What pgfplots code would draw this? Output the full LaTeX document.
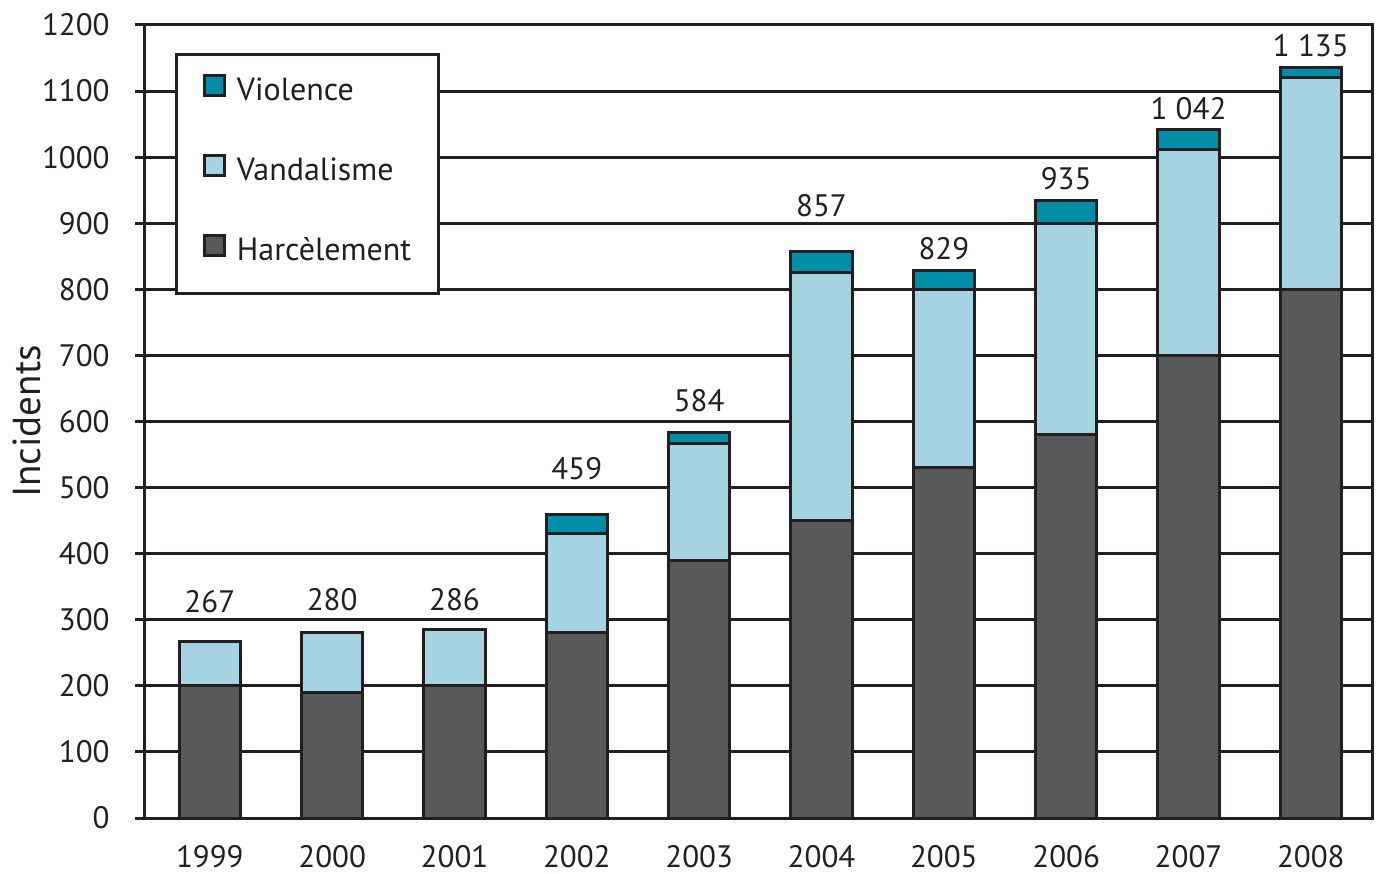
\documentclass[border=0pt]{standalone}
\usepackage{pgfplots}
\usepackage{pgfplotstable}
\pgfplotsset{compat=1.18}
\usepackage{fontspec}
\setmainfont{PT Sans}
\definecolor{harc}{RGB}{88,89,91}
\definecolor{vand}{RGB}{166,211,225}
\definecolor{viol}{RGB}{0,142,168}
\definecolor{edge}{RGB}{35,31,32}

\pgfplotstableread{
x h v vi
0 200 67 0
1 190 90 0
2 200 86 0
3 280 150 29
4 390 177 17
5 450 375 32
6 530 270 29
7 580 320 35
8 700 312 30
9 800 320 15
}\datatable

\pgfplotstableread{
x ly total
0 328 267
1 330 280
2 330 286
3 528 459
4 632 584
5 926 857
6 861 829
7 968 935
8 1074 1042
9 1168 1135
}\labeltable

\newcommand{\lblfont}{\fontsize{15.5}{18}\selectfont}

\begin{document}
\begin{tikzpicture}
\useasboundingbox (-72.5pt,-27.5pt) rectangle (615.5pt,409pt);
\begin{axis}[
  at={(0,0)}, anchor=south west,
  width=613.5pt, height=396.5pt, scale only axis,
  ybar stacked, bar width=0.5,
  xmin=-0.53, xmax=9.5, ymin=0, ymax=1200,
  xtick={0,...,9},
  xticklabels={1999,2000,2001,2002,2003,2004,2005,2006,2007,2008},
  ytick={0,100,...,1200},
  axis line style={edge, line width=1.5pt},
  ymajorgrids, major grid style={edge, line width=1.5pt},
  x tick style={draw=none},
  ytick pos=left, xtick pos=left,
  tick align=outside, major tick length=5pt,
  y tick style={edge, line width=1.5pt},
  tick label style={font=\lblfont, text=edge},
  x tick label style={anchor=north, inner sep=0pt, yshift=-8.5pt},
  y tick label style={anchor=east, inner sep=0pt, xshift=-12.5pt},
  /pgf/number format/assume math mode=true,
  /pgf/number format/1000 sep={},
  ylabel={Incidents},
  ylabel style={at={(axis description cs:-0.0962,0.5)}, anchor=center, font=\fontsize{19.5}{22}\selectfont, text=edge},
  reverse legend,
  legend style={at={(axis description cs:0.02445,0.9647)}, anchor=north west,
    draw=edge, line width=1.5pt, fill=white, font=\fontsize{16}{19}\selectfont, text=edge,
    inner xsep=13.5pt, inner ysep=10pt, row sep=20.25pt,
    nodes={inner sep=0pt, text height=11pt, text depth=6.5pt},
    column sep=5.5pt},
  legend cell align=left,
  every axis plot post/.append style={
    legend image code/.code={\draw[##1, line width=1.2pt] (0pt,0.4pt) rectangle (10pt,10.4pt);}},
]
\addplot[fill=harc, draw=edge, line width=1.5pt] table[x=x,y=h]{\datatable};
\addlegendentry{Harcèlement}
\addplot[fill=vand, draw=edge, line width=1.5pt] table[x=x,y=v]{\datatable};
\addlegendentry{Vandalisme}
\addplot[fill=viol, draw=edge, line width=1.5pt] table[x=x,y=vi]{\datatable};
\addlegendentry{Violence}
\end{axis}
\begin{axis}[
  at={(0,0)}, anchor=south west,
  width=613.5pt, height=396.5pt, scale only axis,
  xmin=-0.53, xmax=9.5, ymin=0, ymax=1200,
  hide axis,
  /pgf/number format/assume math mode=true,
]
\addplot[only marks, mark=*, mark options={draw opacity=0, fill opacity=0, scale=0.01},
  point meta=explicit,
  nodes near coords={\pgfmathprintnumber[1000 sep={\ }]{\pgfplotspointmeta}},
  nodes near coords style={anchor=center, font=\lblfont, text=edge, opacity=1}]
  table[x=x, y=ly, meta=total]{\labeltable};
\end{axis}
\end{tikzpicture}
\end{document}
